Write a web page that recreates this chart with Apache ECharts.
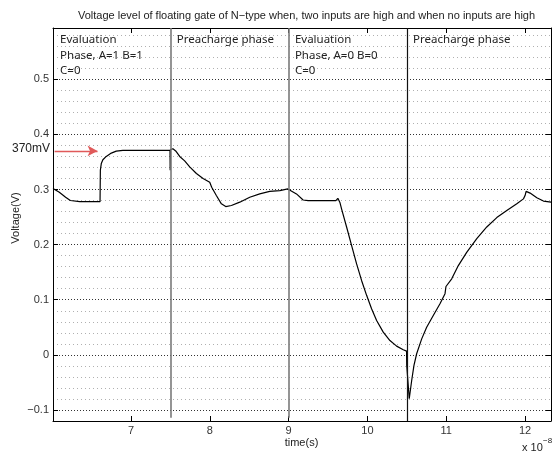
<!DOCTYPE html>
<html>
<head>
<meta charset="utf-8">
<script src="https://cdn.jsdelivr.net/npm/echarts@6/dist/echarts.min.js"></script>
<style>html,body{margin:0;padding:0;background:#fff}#c{width:552px;height:453px}</style>
</head>
<body>
<div id="c"></div>
<script>
// ---- data (time in units of 1e-8 s, voltage in V) ----
const timeValues = [
  6.01, 6.09, 6.17, 6.23, 6.35, 6.607, 6.609, 6.611, 6.623, 6.643, 6.686, 6.750, 6.813, 6.897,
  7.495, 7.497, 7.50, 7.532, 7.567, 7.618, 7.681, 7.745, 7.830, 7.914, 7.999, 8.011, 8.024,
  8.083, 8.147, 8.202, 8.274, 8.380, 8.507, 8.634, 8.761, 8.888, 8.990, 9.005, 9.100, 9.184,
  9.248, 9.600, 9.625, 9.651, 9.672, 9.736, 9.799, 9.863, 9.926, 9.990, 10.053, 10.117,
  10.201, 10.286, 10.371, 10.455, 10.497, 10.499, 10.531, 10.562, 10.591, 10.625, 10.689,
  10.752, 10.836, 10.921, 10.985, 10.997, 11.014, 11.070, 11.154, 11.260, 11.388, 11.515,
  11.642, 11.769, 11.896, 11.980, 12.001, 12.014, 12.065, 12.150, 12.234, 12.33
];
const voltageValues = [
  0.302, 0.295, 0.286, 0.280, 0.278, 0.278, 0.276, 0.335, 0.347, 0.354, 0.360, 0.366, 0.3697, 0.371,
  0.371, 0.335, 0.372, 0.374, 0.370, 0.360, 0.352, 0.341, 0.329, 0.320, 0.313, 0.3165, 0.304,
  0.289, 0.274, 0.269, 0.271, 0.277, 0.286, 0.292, 0.2965, 0.298, 0.301, 0.304, 0.292, 0.281,
  0.2797, 0.2797, 0.284, 0.2766, 0.265, 0.232, 0.1985, 0.165, 0.135, 0.108, 0.0837, 0.0624,
  0.0412, 0.026, 0.0158, 0.0093, 0.0068, -0.019, -0.0797, -0.0465, -0.019, 0.002, 0.029,
  0.050, 0.0715, 0.0927, 0.111, 0.124, 0.1217, 0.138, 0.162, 0.186, 0.211, 0.232,
  0.249, 0.262, 0.274, 0.283, 0.289, 0.2966, 0.2935, 0.285, 0.279, 0.277
];
const phaseBoundaries = [7.5, 9, 10.5];
const phaseLabels = [
  { x: 6.1, lines: ['Evaluation', 'Phase, A=1 B=1', 'C=0'] },
  { x: 7.58, lines: ['Preacharge phase'] },
  { x: 9.08, lines: ['Evaluation', 'Phase, A=0 B=0', 'C=0'] },
  { x: 10.58, lines: ['Preacharge phase'] }
];
const markerLevel = 0.37;           // 370mV
const markerLabel = '370mV';
const arrowFrom = 6.03, arrowTo = 6.575;
const xMin = 6.01, xMax = 12.33;
const yMin = -0.12, yMax = 0.593;
const titleText = 'Voltage level of floating gate of N\u2212type when, two inputs are high and when no inputs are high';

const seriesData = timeValues.map((t, i) => [t, voltageValues[i]]);

const FONT = '"Liberation Sans", Arial, sans-serif';
const chart = echarts.init(document.getElementById('c'), null, { renderer: 'canvas' });

const gridBox = { left: 53, top: 28, width: 498, height: 393 };

const fmtY = v => {
  const k = Math.round(v * 10);
  if (Math.abs(v * 10 - k) > 1e-6) return '';
  const s = String(k / 10);
  return s.replace('-', '\u2212');
};

const phaseLineData = phaseBoundaries.map((x, i) => {
  const last = i === phaseBoundaries.length - 1;
  return [
    { coord: [x, yMax], lineStyle: { color: last ? '#111' : '#7a7a7a', width: last ? 1.2 : 1.6, type: 'solid' } },
    { coord: [x, last ? yMin : -0.114] }
  ];
});
const arrowData = [[
  { coord: [arrowFrom, markerLevel], symbol: 'none', lineStyle: { color: '#e05a5a', width: 1.4, type: 'solid' } },
  { coord: [arrowTo, markerLevel], symbol: 'arrow', symbolSize: [8, 10] }
]];

chart.setOption({
  animation: false,
  backgroundColor: '#fff',
  title: {
    text: titleText, left: 301.5, textAlign: 'center', top: 5,
    textStyle: { fontFamily: FONT, fontSize: 11, fontWeight: 'normal', color: '#222' }
  },
  grid: gridBox,
  xAxis: [
    {
      type: 'value', min: xMin, max: xMax, position: 'bottom',
      axisLine: { show: true, onZero: false, lineStyle: { color: '#000', width: 1 } },
      axisTick: { show: true, inside: true, length: 5, lineStyle: { color: '#000' } },
      axisLabel: { showMinLabel: false, showMaxLabel: false, margin: 4, fontFamily: FONT, fontSize: 11, color: '#333' },
      splitLine: { show: false }
    },
    {
      type: 'value', min: xMin, max: xMax, position: 'top',
      axisLine: { show: true, onZero: false, lineStyle: { color: '#000', width: 1 } },
      axisTick: { show: true, inside: true, length: 5, lineStyle: { color: '#000' } },
      axisLabel: { show: false },
      splitLine: { show: false }
    }
  ],
  yAxis: [
    {
      // minor grid (every 0.02) + labels
      type: 'value', min: yMin, max: yMax, interval: 0.02, position: 'left',
      axisLine: { show: true, onZero: false, lineStyle: { color: '#000', width: 1 } },
      axisTick: { show: false },
      axisLabel: { formatter: fmtY, margin: 4, fontFamily: FONT, fontSize: 11, color: '#333', showMaxLabel: false },
      splitLine: {
        show: true,
        lineStyle: { color: ['#b0b0b0', 'rgba(0,0,0,0)', '#b0b0b0', '#b0b0b0', '#b0b0b0'], width: 1, type: [1, 3] }
      }
    },
    {
      // major grid (every 0.1) + ticks
      type: 'value', min: yMin, max: yMax, position: 'left',
      axisLine: { show: false },
      axisTick: { show: true, inside: true, length: 5, lineStyle: { color: '#000' } },
      axisLabel: { show: false },
      splitLine: { show: true, lineStyle: { color: '#333', width: 1, type: [1, 2] } }
    },
    {
      type: 'value', min: yMin, max: yMax, position: 'right',
      axisLine: { show: true, onZero: false, lineStyle: { color: '#000', width: 1 } },
      axisTick: { show: true, inside: true, length: 5, lineStyle: { color: '#000' } },
      axisLabel: { show: false },
      splitLine: { show: false }
    }
  ],
  series: [
    {
      type: 'line', xAxisIndex: 0, yAxisIndex: 0,
      data: seriesData, showSymbol: false, symbol: 'none', smooth: false, clip: true,
      lineStyle: { color: '#000', width: 1.2 },
      z: 3,
      markLine: {
        silent: true, symbol: ['none', 'none'], label: { show: false },
        animation: false,
        data: phaseLineData.concat(arrowData)
      }
    }
  ]
});

// annotation texts
const yPix = v => chart.convertToPixel({ yAxisIndex: 0 }, v);
const xPix = v => chart.convertToPixel({ xAxisIndex: 0 }, v);
const rowY = [40, 55.5, 71];
const graphics = [];
phaseLabels.forEach(p => {
  p.lines.forEach((line, j) => {
    graphics.push({
      type: 'text', x: xPix(p.x), y: rowY[j], z: 10,
      style: { text: line, font: '11.5px "Noto Sans", sans-serif', fill: '#222', textAlign: 'left', textVerticalAlign: 'middle', verticalAlign: 'middle' }
    });
  });
});
graphics.push({
  type: 'text', x: 50, y: yPix(markerLevel) - 2, z: 10,
  style: { text: markerLabel, font: '12px "Liberation Sans", Arial, sans-serif', fill: '#222', textAlign: 'right', verticalAlign: 'middle', textVerticalAlign: 'middle' }
});
graphics.push({
  type: 'text', x: 301.5, y: 443, z: 10,
  style: { text: 'time(s)', font: '11px "Liberation Sans", Arial, sans-serif', fill: '#222', textAlign: 'center', verticalAlign: 'middle', textVerticalAlign: 'middle' }
});
graphics.push({
  type: 'text', x: 16, y: 218, rotation: Math.PI / 2, z: 10,
  style: { text: 'Voltage(V)', font: '11px "Liberation Sans", Arial, sans-serif', fill: '#222', textAlign: 'center', verticalAlign: 'middle', textVerticalAlign: 'middle' }
});
graphics.push({
  type: 'text', x: 522, y: 448, z: 10,
  style: { text: 'x 10', font: '11px "Liberation Sans", Arial, sans-serif', fill: '#222', textAlign: 'left', verticalAlign: 'middle', textVerticalAlign: 'middle' }
});
graphics.push({
  type: 'text', x: 543, y: 441, z: 10,
  style: { text: '\u22128', font: '8px "Liberation Sans", Arial, sans-serif', fill: '#222', textAlign: 'left', verticalAlign: 'middle', textVerticalAlign: 'middle' }
});
chart.setOption({ graphic: graphics });
</script>
</body>
</html>
